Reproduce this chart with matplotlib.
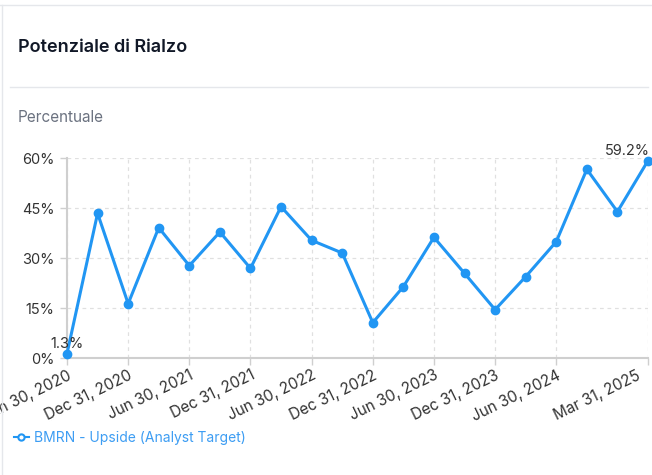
import matplotlib.pyplot as plt
from matplotlib.lines import Line2D
from matplotlib.transforms import ScaledTranslation

plt.rcParams["font.family"] = ["Inter", "DejaVu Sans"]

# Data
dates = ["Jun 30, 2020", "Sep 30, 2020", "Dec 31, 2020", "Mar 31, 2021",
         "Jun 30, 2021", "Sep 30, 2021", "Dec 31, 2021", "Mar 31, 2022",
         "Jun 30, 2022", "Sep 30, 2022", "Dec 31, 2022", "Mar 31, 2023",
         "Jun 30, 2023", "Sep 30, 2023", "Dec 31, 2023", "Mar 31, 2024",
         "Jun 30, 2024", "Sep 30, 2024", "Dec 31, 2024", "Mar 31, 2025"]
upside = [1.3, 43.4, 16.3, 39.1, 27.7, 37.8, 26.9, 45.4, 35.3, 31.5,
          10.6, 21.4, 36.2, 25.4, 14.5, 24.4, 34.9, 56.6, 43.9, 59.2]
tick_idx = [0, 2, 4, 6, 8, 10, 12, 14, 16, 19]
yticks = [0, 15, 30, 45, 60]
series_name = "BMRN - Upside (Analyst Target)"

blue = "#2196f3"
W, H = 652, 475

fig = plt.figure(figsize=(W / 100, H / 100), dpi=100)

# card frame
fig.add_artist(Line2D([0, 1], [1 - 4.5 / H, 1 - 4.5 / H], color="#e5e7eb", lw=1))
fig.add_artist(Line2D([1.5 / W, 1.5 / W], [0, 1 - 4.5 / H], color="#e5e7eb", lw=1))
fig.add_artist(Line2D([10 / W, 648 / W], [1 - 87 / H, 1 - 87 / H], color="#e5e7eb", lw=1))

fig.text(18 / W, 1 - 48 / H, "Potenziale di Rialzo", fontsize=13, fontweight="semibold",
         color="#111827", va="center", ha="left")
fig.text(18 / W, 1 - 117 / H, "Percentuale", fontsize=11, color="#6b7280",
         va="center", ha="left")

ax = fig.add_axes([67 / W, 1 - 358 / H, (648 - 67) / W, 200 / H])
x = list(range(len(upside)))
ax.plot(x, upside, color=blue, lw=2.2, marker="o", ms=6, clip_on=False, zorder=3)

ax.set_xlim(0, len(upside) - 1)
ax.set_ylim(0, 60)
ax.set_yticks(yticks)
ax.set_yticklabels([f"{v}%" for v in yticks])
ax.set_xticks(tick_idx)
ax.set_xticklabels([dates[i] for i in tick_idx], rotation=26, ha="right",
                   rotation_mode="anchor")

ax.grid(True, color="#e0e0e0", ls=(0, (3, 3)), lw=0.9)
for s in ["top", "right"]:
    ax.spines[s].set_visible(False)
for s in ["left", "bottom"]:
    ax.spines[s].set_color("#cfcfcf")
    ax.spines[s].set_linewidth(1.5)
ax.tick_params(axis="both", colors="#cfcfcf", labelcolor="#333333", labelsize=10.5,
               length=5, width=1)
ax.tick_params(axis="x", labelsize=11, pad=2)
ax.tick_params(axis="y", pad=4)

# last date label is pushed left so it stays inside the card
last = ax.get_xticklabels()[-1]
last.set_transform(last.get_transform() + ScaledTranslation(-12 / 100, 0, fig.dpi_scale_trans))

ax.annotate(f"{upside[0]}%", (x[0], upside[0]), xytext=(0, 2), textcoords="offset points",
            ha="center", va="bottom", fontsize=10.5, color="#333333", annotation_clip=False)
ax.annotate(f"{upside[-1]}%", (x[-1], upside[-1]), xytext=(1, 2), textcoords="offset points",
            ha="right", va="bottom", fontsize=10.5, color="#333333", annotation_clip=False)

# legend
handle = Line2D([], [], color=blue, lw=1.5, marker="o", ms=4.5, mfc="white", mew=1.5)
fig.legend([handle], [series_name], loc="center left", bbox_to_anchor=(1 / W, 1 - 438 / H),
           frameon=False, fontsize=10, labelcolor="#3d9df3", handlelength=1.1,
           handletextpad=0.4)

fig.savefig("out.png", dpi=100)
